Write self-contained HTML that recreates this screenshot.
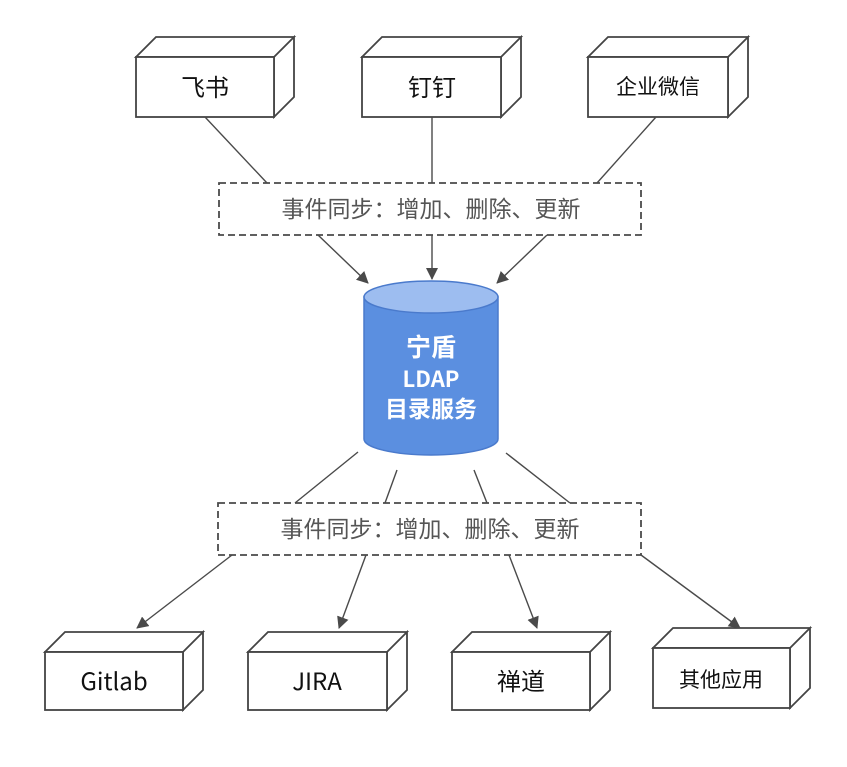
<!DOCTYPE html>
<html><head><meta charset="utf-8"><style>body{margin:0;background:#fff}</style></head>
<body>
<svg width="847" height="762" xmlns="http://www.w3.org/2000/svg" font-family="Noto Sans CJK SC, Liberation Sans, sans-serif">
<defs><marker id="a" markerWidth="12" markerHeight="12" refX="11" refY="6" orient="auto" markerUnits="userSpaceOnUse"><path d="M0,0 L12,6 L0,12 z" fill="#4a4a4a"/></marker></defs>
<rect width="847" height="762" fill="#fff"/>
<g fill="#fff" stroke="#444" stroke-width="1.8">
<path d="M136,57 L156,37 L294,37 L274,57 Z M274,57 L294,37 L294,97 L274,117 Z"/><rect x="136" y="57" width="138" height="60"/>
<path d="M362,57 L382,37 L521,37 L501,57 Z M501,57 L521,37 L521,97 L501,117 Z"/><rect x="362" y="57" width="139" height="60"/>
<path d="M588,57 L608,37 L748,37 L728,57 Z M728,57 L748,37 L748,97 L728,117 Z"/><rect x="588" y="57" width="140" height="60"/>
<path d="M45,652 L65,632 L203,632 L183,652 Z M183,652 L203,632 L203,690 L183,710 Z"/><rect x="45" y="652" width="138" height="58"/>
<path d="M248,652 L268,632 L407,632 L387,652 Z M387,652 L407,632 L407,690 L387,710 Z"/><rect x="248" y="652" width="139" height="58"/>
<path d="M452,652 L472,632 L610,632 L590,652 Z M590,652 L610,632 L610,690 L590,710 Z"/><rect x="452" y="652" width="138" height="58"/>
<path d="M653,648 L673,628 L810,628 L790,648 Z M790,648 L810,628 L810,688 L790,708 Z"/><rect x="653" y="648" width="137" height="60"/>
</g>
<g stroke="#4a4a4a" stroke-width="1.4" fill="none">
<line x1="205" y1="117" x2="267" y2="183"/>
<line x1="432" y1="117" x2="432" y2="183"/>
<line x1="656" y1="117" x2="597" y2="183"/>
<line x1="318" y1="235" x2="368" y2="283" marker-end="url(#a)"/>
<line x1="432" y1="235" x2="432" y2="279" marker-end="url(#a)"/>
<line x1="547" y1="235" x2="497" y2="283" marker-end="url(#a)"/>
<line x1="358" y1="452" x2="295" y2="503"/>
<line x1="397" y1="470" x2="385" y2="503"/>
<line x1="474" y1="470" x2="487" y2="503"/>
<line x1="506" y1="453" x2="570" y2="503"/>
<line x1="232" y1="555" x2="137" y2="628" marker-end="url(#a)"/>
<line x1="366" y1="555" x2="339" y2="628" marker-end="url(#a)"/>
<line x1="509" y1="555" x2="537" y2="628" marker-end="url(#a)"/>
<line x1="641" y1="555" x2="740" y2="628" marker-end="url(#a)"/>
<rect x="219" y="183" width="422" height="52" stroke-dasharray="7,4" stroke-width="1.8"/>
<rect x="218" y="503" width="423" height="52" stroke-dasharray="7,4" stroke-width="1.8"/>
</g>
<path d="M364,297 L364,439 A67,16 0 0 0 498,439 L498,297 Z" fill="#5b8fe0" stroke="#4a7acc" stroke-width="1.5"/>
<ellipse cx="431" cy="297" rx="67" ry="16" fill="#9dbdf0" stroke="#4a7acc" stroke-width="1.5"/>
<g fill="#fff" font-weight="bold" text-anchor="middle">
<text x="431" y="356" font-size="25">宁盾</text>
<text x="431" y="387" font-size="22">LDAP</text>
<text x="431" y="417" font-size="23">目录服务</text>
</g>
<g fill="#111" text-anchor="middle" font-size="24">
<text x="205" y="96">飞书</text>
<text x="432" y="96">钉钉</text>
<text x="658" y="94" font-size="21">企业微信</text>
<text x="114" y="690">Gitlab</text>
<text x="317" y="690">JIRA</text>
<text x="521" y="690">禅道</text>
<text x="721" y="687" font-size="21">其他应用</text>
</g>
<g fill="#555" text-anchor="middle" font-size="23">
<text x="431" y="217">事件同步：增加、删除、更新</text>
<text x="430" y="537">事件同步：增加、删除、更新</text>
</g>
</svg>
</body></html>
